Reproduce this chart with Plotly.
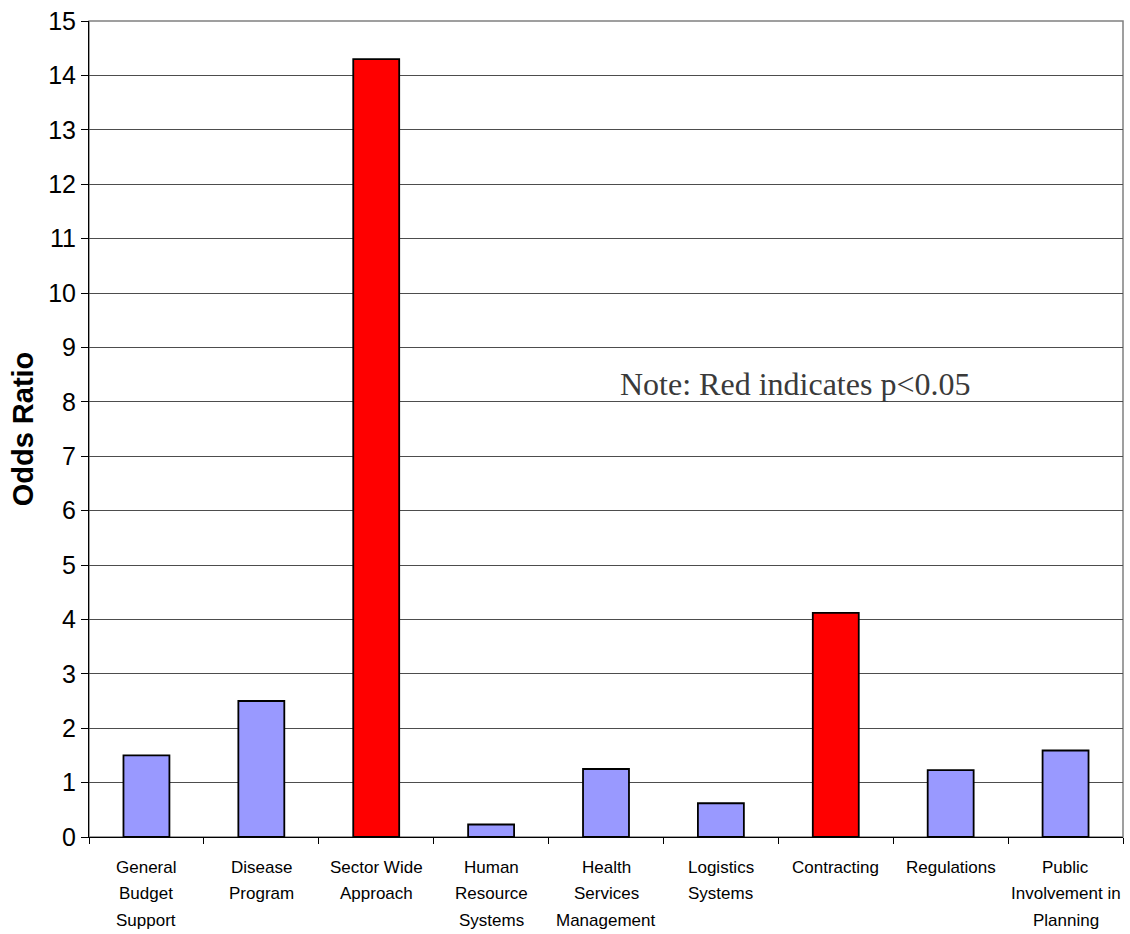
import plotly.graph_objects as go

# Reform components and their odds ratios
categories = [
    "General<br>Budget<br>Support",
    "Disease<br>Program",
    "Sector Wide<br>Approach",
    "Human<br>Resource<br>Systems",
    "Health<br>Services<br>Management",
    "Logistics<br>Systems",
    "Contracting",
    "Regulations",
    "Public<br>Involvement in<br>Planning",
]
odds_ratio = [1.50, 2.50, 14.30, 0.23, 1.25, 0.62, 4.12, 1.23, 1.59]
significant = [False, False, True, False, False, False, True, False, False]
y_ticks = list(range(0, 16))

SIG_COLOR = "#FF0000"
NS_COLOR = "#9999FF"
bar_colors = [SIG_COLOR if s else NS_COLOR for s in significant]

fig = go.Figure(
    go.Bar(
        x=categories,
        y=odds_ratio,
        marker=dict(color=bar_colors, line=dict(color="#000000", width=1.8)),
        width=0.4,
        hoverinfo="x+y",
    )
)

# Category labels drawn line by line for Excel-like spacing
annotations = []
for cat in categories:
    for i, line in enumerate(cat.split("<br>")):
        annotations.append(
            dict(
                x=cat, xref="x", y=0, yref="paper",
                text=line, showarrow=False,
                xanchor="center", yanchor="middle",
                yshift=-30 - 26.5 * i,
                font=dict(family="Liberation Sans, Arial", size=17, color="#000000"),
            )
        )

annotations.append(
    dict(
        x=0.6825, xref="paper", y=8.32, yref="y",
        text="Note: Red indicates p<0.05", showarrow=False,
        xanchor="center", yanchor="middle",
        font=dict(family="Liberation Serif, Times New Roman", size=32, color="#3a3a3a"),
    )
)

fig.update_layout(
    width=1130,
    height=934,
    margin=dict(l=89, r=7, t=21, b=97),
    paper_bgcolor="#FFFFFF",
    plot_bgcolor="#FFFFFF",
    showlegend=False,
    annotations=annotations,
    shapes=[
        dict(type="rect", xref="paper", yref="paper", x0=0, x1=1, y0=0, y1=1,
             line=dict(color="#808080", width=1.5), layer="below"),
    ],
    xaxis=dict(
        showticklabels=False,
        tickson="boundaries",
        ticks="outside",
        ticklen=6,
        tickcolor="#000000",
        showline=True,
        linecolor="#000000",
        linewidth=1,
        showgrid=False,
        zeroline=False,
    ),
    yaxis=dict(
        range=[0, 15],
        tickvals=y_ticks,
        ticks="outside",
        ticklen=7,
        tickcolor="#000000",
        showline=True,
        linecolor="#000000",
        linewidth=1,
        showgrid=True,
        gridcolor="#4d4d4d",
        gridwidth=1,
        zeroline=False,
        tickfont=dict(family="Liberation Sans, Arial", size=25, color="#000000"),
        title=dict(
            text="<b>Odds Ratio</b>",
            font=dict(family="Liberation Sans, Arial", size=29, color="#000000"),
            standoff=6,
        ),
    ),
)

fig.write_html("out.html")
